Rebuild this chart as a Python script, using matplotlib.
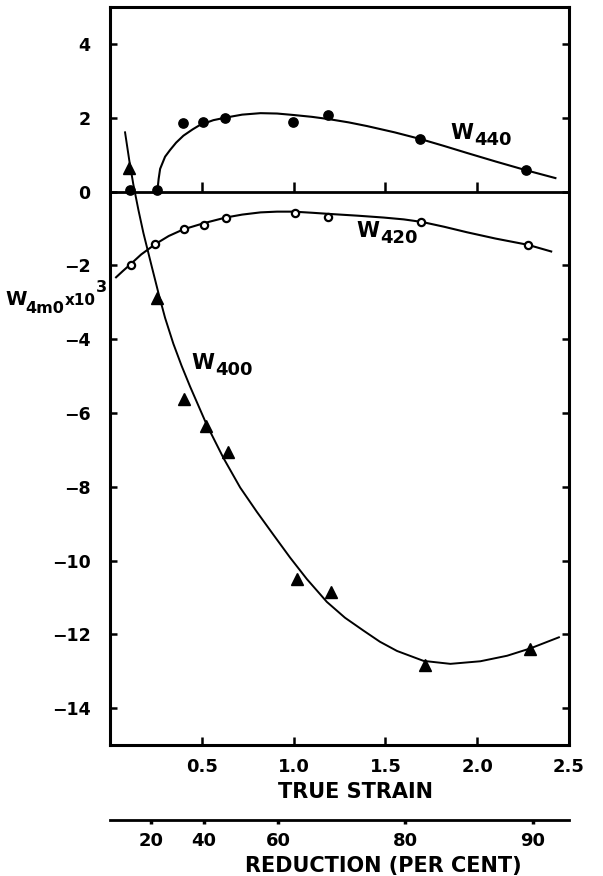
import numpy as np
import matplotlib.pyplot as plt

plt.rcParams['font.family'] = ['DejaVu Sans']
plt.rcParams['font.weight'] = 'bold'

# measured points (true strain, W x 10^3)
strain_440 = [0.109, 0.258, 0.396, 0.509, 0.629, 0.996, 1.189, 1.690, 2.268]
w440 = [0.05, 0.05, 1.86, 1.89, 2.01, 1.90, 2.08, 1.43, 0.58]

strain_420 = [0.113, 0.247, 0.403, 0.513, 0.631, 1.005, 1.190, 1.696, 2.277]
w420 = [-1.98, -1.42, -1.02, -0.90, -0.70, -0.58, -0.68, -0.81, -1.44]

strain_400 = [0.105, 0.258, 0.405, 0.522, 0.645, 1.018, 1.205, 1.714, 2.285]
w400 = [0.65, -2.87, -5.62, -6.35, -7.06, -10.51, -10.85, -12.84, -12.39]

# hand-drawn curves
curve_x_440 = [0.258, 0.265, 0.273, 0.30, 0.327, 0.36, 0.40, 0.45, 0.49, 0.563, 0.63,
               0.72, 0.82, 0.91, 1.0, 1.10, 1.19, 1.30, 1.40, 1.55, 1.69, 1.82,
               1.945, 2.10, 2.268, 2.426]
curve_y_440 = [0.02, 0.35, 0.62, 0.95, 1.13, 1.33, 1.52, 1.69, 1.81, 1.94, 2.01,
               2.09, 2.13, 2.12, 2.08, 2.03, 1.97, 1.88, 1.78, 1.61, 1.43, 1.24,
               1.05, 0.82, 0.58, 0.37]

curve_x_420 = [0.033, 0.07, 0.113, 0.17, 0.247, 0.32, 0.40, 0.513, 0.63, 0.72, 0.82,
               0.91, 1.0, 1.10, 1.22, 1.35, 1.49, 1.60, 1.70, 1.82, 1.945, 2.10,
               2.277, 2.403]
curve_y_420 = [-2.32, -2.15, -1.96, -1.70, -1.42, -1.20, -1.02, -0.85, -0.70, -0.62,
               -0.56, -0.54, -0.54, -0.57, -0.61, -0.65, -0.70, -0.75, -0.82, -0.95,
               -1.10, -1.27, -1.44, -1.62]

curve_x_400 = [0.082, 0.105, 0.127, 0.155, 0.182, 0.227, 0.264, 0.30, 0.345, 0.39,
               0.436, 0.527, 0.618, 0.709, 0.80, 0.89, 0.981, 1.072, 1.181, 1.28,
               1.381, 1.47, 1.563, 1.708, 1.854, 2.017, 2.163, 2.29, 2.445]
curve_y_400 = [1.61, 0.85, 0.20, -0.50, -1.12, -2.02, -2.75, -3.42, -4.12, -4.72,
               -5.28, -6.32, -7.22, -8.02, -8.68, -9.30, -9.92, -10.50, -11.12, -11.55,
               -11.90, -12.20, -12.45, -12.72, -12.80, -12.73, -12.58, -12.38, -12.08]

strain_ticks = [0.5, 1.0, 1.5, 2.0, 2.5]
reduction_ticks = [20, 40, 60, 80, 90]


def to_strain(r):
    # reduction in per cent -> true strain
    return -np.log(1 - np.asarray(r, dtype=float) / 100)


def w_label(ax, x, y, sub):
    t = ax.text(x, y, 'W', fontsize=15, fontweight='bold', ha='left', va='baseline')
    ax.annotate(sub, xy=(1, 0), xycoords=t, xytext=(0.5, -4.3), textcoords='offset points',
                fontsize=13, fontweight='bold', ha='left', va='bottom')


fig = plt.figure(figsize=(6.03, 8.76), dpi=100)
ax = fig.add_axes([110 / 603, 1 - 745 / 876, 459 / 603, 737.7 / 876])

ax.axhline(0, color='black', lw=2.0)
ax.plot(strain_ticks[:-1], np.zeros(len(strain_ticks) - 1), ls='none', marker=2,
        ms=7, mew=1.8, color='black')

ax.plot(curve_x_440, curve_y_440, color='black', lw=1.5)
ax.plot(curve_x_420, curve_y_420, color='black', lw=1.5)
ax.plot(curve_x_400, curve_y_400, color='black', lw=1.4)

ax.plot(strain_440, w440, 'o', color='black', ms=6.7, clip_on=False)
ax.plot(strain_420, w420, 'o', mfc='white', mec='black', mew=1.6, ms=5.2)
ax.plot(strain_400, w400, '^', color='black', ms=8)

w_label(ax, 1.854, 1.43, '440')
w_label(ax, 1.344, -1.24, '420')
w_label(ax, 0.445, -4.81, '400')

ax.set_xlim(0, 2.5)
ax.set_ylim(-15, 5)
ax.set_xticks(strain_ticks)
ax.set_yticks(range(-14, 5, 2))
for s in ax.spines.values():
    s.set_linewidth(2.2)
ax.tick_params(axis='x', direction='in', length=6, width=1.8, pad=9, labelsize=13)
ax.tick_params(axis='y', direction='in', length=5, width=1.8, pad=14, labelsize=12.5,
               right=True)

# reduction (per cent) scale below
rax = fig.add_axes([110 / 603, 1 - 820 / 876, 459 / 603, 0.0001])
rax.set_xlim(0, 2.5)
rax.set_xticks(to_strain(reduction_ticks))
rax.set_xticklabels([str(r) for r in reduction_ticks])
rax.set_yticks([])
for side in ['top', 'left', 'right']:
    rax.spines[side].set_visible(False)
rax.spines['bottom'].set_linewidth(2.0)
rax.tick_params(axis='x', direction='out', length=3, width=2.5, pad=6, labelsize=13)

fig.text(356 / 603, 1 - 798 / 876, 'TRUE STRAIN', fontsize=15, fontweight='bold',
         ha='center', va='baseline')
fig.text(383.5 / 603, 1 - 872 / 876, 'REDUCTION (PER CENT)', fontsize=15,
         fontweight='bold', ha='center', va='baseline')

# y label: W_4m0 x10^3
t1 = fig.text(5 / 603, 1 - 305 / 876, 'W', fontsize=14, fontweight='bold', va='baseline')
t2 = ax.annotate('4m0', xy=(1, 0), xycoords=t1, xytext=(-0.5, -5.3), textcoords='offset points',
                 fontsize=11.5, fontweight='bold', va='bottom')
t3 = ax.annotate('x10', xy=(1, 0), xycoords=t2, xytext=(0, 5.7), textcoords='offset points',
                 fontsize=11, fontweight='bold', va='bottom')
ax.annotate('3', xy=(1, 0), xycoords=t3, xytext=(0, 9.4), textcoords='offset points',
            fontsize=11.5, fontweight='bold', va='bottom')

fig.savefig('out.png', dpi=100)
